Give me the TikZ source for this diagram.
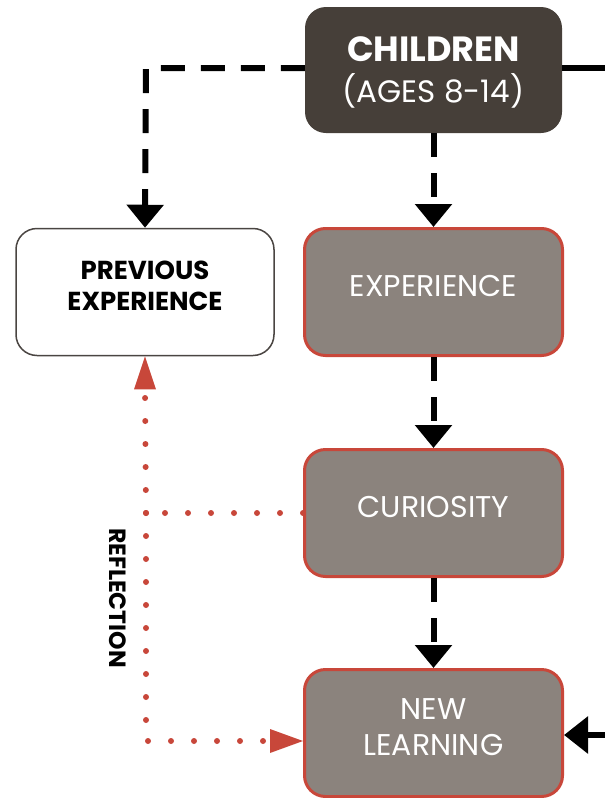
\documentclass[tikz,border=0pt]{standalone}
\usepackage{fontspec}
\setmainfont{Poppins}
\usetikzlibrary{arrows.meta}
\definecolor{darkbox}{HTML}{463F39}
\definecolor{graybox}{HTML}{8B837D}
\definecolor{redline}{HTML}{C8473A}
\definecolor{greyline}{HTML}{4A4542}
\tikzset{
  x=1pt, y=-1pt,
  box/.style={rounded corners=21pt, minimum width=258pt, minimum height=127pt, align=center, inner sep=0pt, text depth=12pt},
  greybox/.style={box, fill=graybox, draw=redline, line width=3pt, text=white, font=\fontsize{30}{36}\selectfont},
  dashline/.style={line width=6pt, dash pattern=on 24pt off 16pt, -{Triangle[width=36pt,length=23pt]}},
  solidarrow/.style={line width=6pt, -{Triangle[width=36pt,length=24pt]}},
  reddots/.style={redline, line width=6pt, line cap=round, dash pattern=on 0pt off 23pt},
}
\begin{document}
\begin{tikzpicture}
\useasboundingbox (0,0) rectangle (605,798);
\node[box, fill=darkbox, text=white, minimum width=257pt, minimum height=126pt, text depth=0pt, font=\fontsize{31}{41}\selectfont] (children) at (433.5,70)
  {{\fontsize{35}{41}\selectfont\bfseries CHILDREN}\\(AGES 8-14)};
\node[box, draw=greyline, line width=1.5pt, fill=white, font=\fontsize{26}{31}\selectfont\bfseries] (prev) at (145,292) {PREVIOUS\\EXPERIENCE};
\node[greybox] (exp) at (433.5,292) {EXPERIENCE};
\node[greybox] (cur) at (433.5,513) {CURIOSITY};
\node[greybox] (new) at (433.5,733) {NEW\\LEARNING};
\coordinate (corner) at (146,68);
\coordinate (rightend) at (605,68);
\coordinate (rightin) at (605,735);
\coordinate (junction) at (146,513);
% black connectors
\draw[dashline] (children.west |- corner) -- (corner) -- (prev.north);
\draw[line width=6pt] (children.east |- rightend) -- (rightend);
\draw[dashline] (children.south) -- (exp.north);
\draw[dashline] (exp.south) -- (cur.north);
\draw[dashline] (cur.south) -- (new.north);
\draw[solidarrow] (rightin) -- (new.east |- rightin);
% red reflection loop
\draw[reddots] (cur.west) -- (junction);
\draw[reddots] (junction) -- ([yshift=-32pt]prev.south);
\fill[redline] ([xshift=-11pt,yshift=-33pt]prev.south) -- (prev.south) -- ([xshift=11pt,yshift=-33pt]prev.south) -- cycle;
\coordinate (newin) at (new.west |- 0,741);
\draw[reddots] (junction) |- ([xshift=-32pt]newin);
\fill[redline] ([xshift=-33pt,yshift=-12pt]newin) -- (newin) -- ([xshift=-33pt,yshift=12pt]newin) -- cycle;
\node[rotate=-90, font=\fontsize{23.5}{26}\selectfont\bfseries] (refl) at (118,598) {REFLECTION};
\end{tikzpicture}
\end{document}
